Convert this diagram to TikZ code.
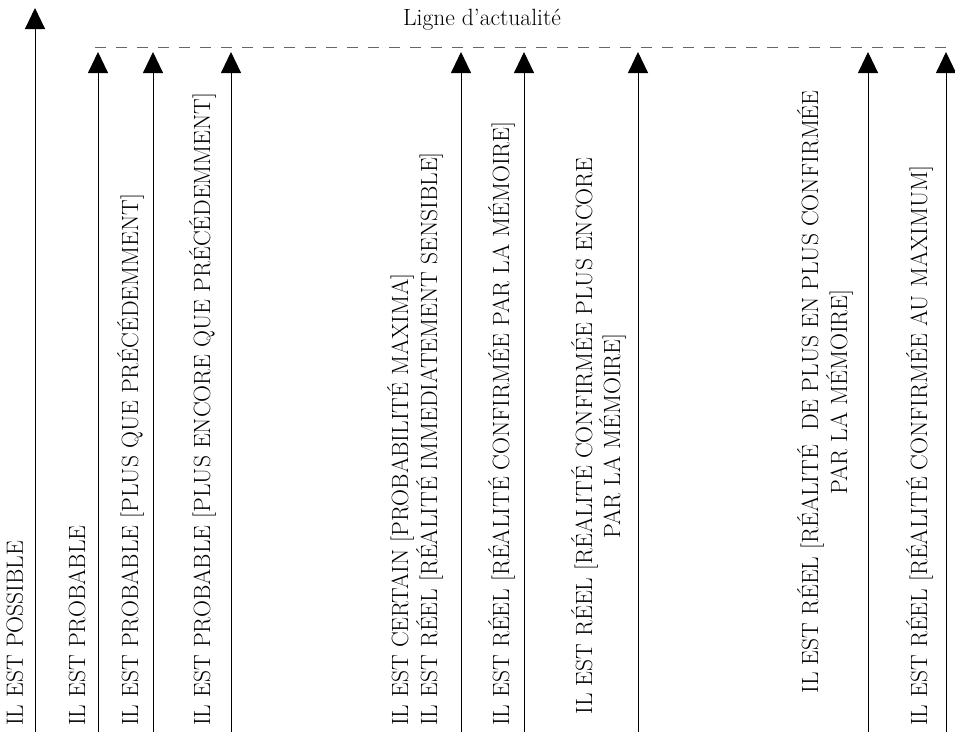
\documentclass[tikz,border=0pt]{standalone}
\usetikzlibrary{arrows.meta}
\begin{document}
\begin{tikzpicture}[x=1pt,y=-1pt,
  level/.style={draw=black, line width=0.9pt, -{Triangle[width=20pt,length=21pt]}},
  actual/.style={draw=black!60, line width=1pt, dash pattern=on 11pt off 10pt},
  txt/.style={inner sep=0pt, font=\fontsize{23.5}{29}\selectfont},
  vlabel/.style={txt, rotate=90, anchor=base west},
  clabel/.style={txt, rotate=90, anchor=base},
]
\useasboundingbox (0,0) rectangle (955,742);

% line of actuality
\coordinate (dl) at (95,47.5);
\coordinate (dr) at (955,47.5);
\draw[actual] (dl) -- (dr);
\node[txt, anchor=base] (title) at (482,25) {Ligne d'actualité};

% foot and tip of each arrow
\foreach \n/\x/\y in {1/35/8, 2/98/52, 3/153/52, 4/231/52, 5/461/52,
                      6/524/52, 7/638/52, 8/868/52, 9/946/52} {
  \coordinate (b\n) at (\x,732);
  \coordinate (a\n) at (\x,\y);
}
\foreach \n in {1,...,9} { \draw[level] (b\n) -- (a\n); }

% labels
\node[vlabel] (t1) at (23,726) {IL EST POSSIBLE};
\node[vlabel] (t2) at (85,726) {IL EST PROBABLE};
\node[vlabel] (t3) at (138,726) {IL EST PROBABLE [PLUS QUE PRÉCÉDEMMENT]};
\node[vlabel] (t4) at (210,726) {IL EST PROBABLE [PLUS ENCORE QUE PRÉCÉDEMMENT]};
\node[vlabel] (t5a) at (408,726) {IL EST CERTAIN [PROBABILITÉ MAXIMA]};
\node[vlabel] (t5b) at (437,726) {IL EST RÉEL [RÉALITÉ IMMEDIATEMENT SENSIBLE]};
\node[vlabel] (t6) at (509,726) {IL EST RÉEL [RÉALITÉ CONFIRMÉE PAR LA MÉMOIRE]};
\node[clabel] (t7a) at (592,436) {IL EST RÉEL [RÉALITÉ CONFIRMÉE PLUS ENCORE};
\node[clabel] (t7b) at (620,436) {PAR LA MÉMOIRE]};
\node[clabel] (t8a) at (818,392) {IL EST RÉEL [RÉALITÉ\ \ DE PLUS EN PLUS CONFIRMÉE};
\node[clabel] (t8b) at (847,392) {PAR LA MÉMOIRE]};
\node[vlabel] (t9) at (927,726) {IL EST RÉEL [RÉALITÉ CONFIRMÉE AU MAXIMUM]};
\end{tikzpicture}
\end{document}
